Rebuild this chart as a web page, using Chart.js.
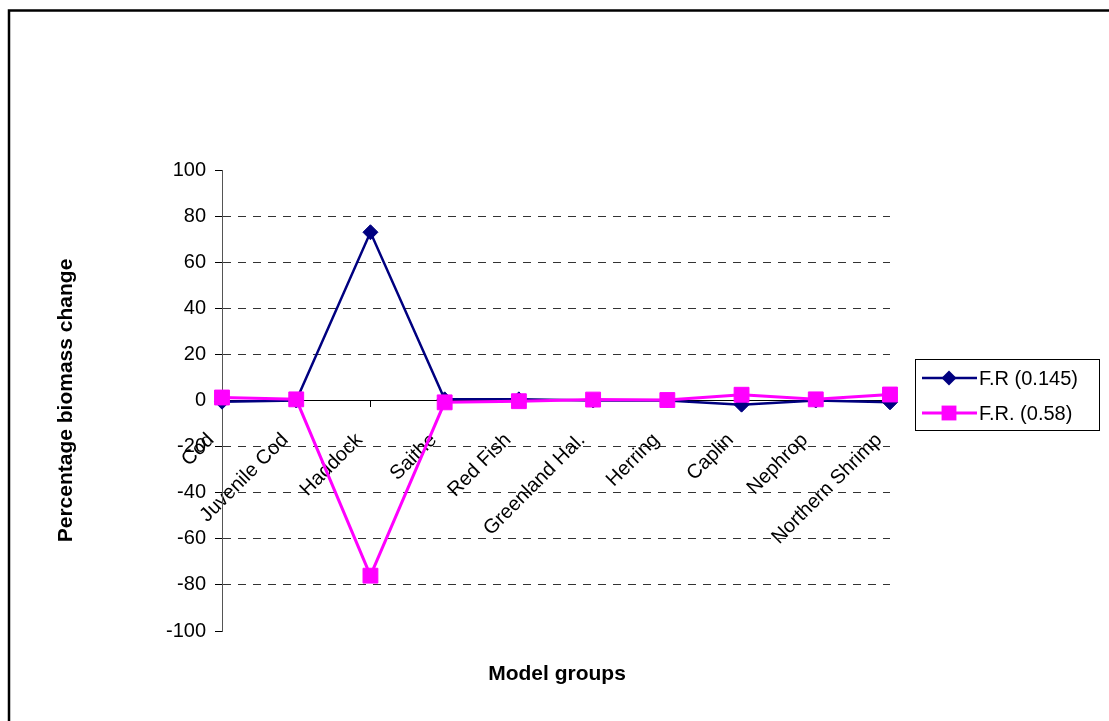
<!DOCTYPE html>
<html>
<head>
<meta charset="utf-8">
<title>Percentage biomass change by model group</title>
<script src="https://cdn.jsdelivr.net/npm/chart.js"></script>
<style>
  html, body { margin: 0; padding: 0; background: #fff; }
  #wrap { position: relative; width: 1109px; height: 721px; }
</style>
</head>
<body>
<div id="wrap"><canvas id="chart"></canvas></div>
<script>
// Model groups along the category axis
const categories = ['Cod', 'Juvenile Cod', 'Haddock', 'Saithe', 'Red Fish',
  'Greenland Hal.', 'Herring', 'Caplin', 'Nephrop', 'Northern Shrimp'];

// Percentage biomass change for each fishing-rate scenario
const seriesNames = ['F.R (0.145)', 'F.R. (0.58)'];
const fr0145 = [-0.5, 0, 73, 0.5, 0.5, 0, 0, -1.8, 0, -0.8];
const fr058 = [1.3, 0.5, -76, -0.8, -0.3, 0.4, 0.2, 2.5, 0.5, 2.6];

// Value axis ticks
const yMin = -100;
const yMax = 100;
const yStep = 20;

const FONT = "'Liberation Sans', Arial, sans-serif";
const NAVY = '#000080';
const MAGENTA = '#FF00FF';

// Frame, axis caption and boxed legend drawn on top of the chart
const decorations = {
  id: 'decorations',
  afterDraw(chart) {
    const ctx = chart.ctx;
    ctx.save();

    // outer frame (open at the right and bottom edges)
    ctx.strokeStyle = '#000';
    ctx.lineWidth = 2.5;
    ctx.beginPath();
    ctx.moveTo(9, 740);
    ctx.lineTo(9, 10.5);
    ctx.lineTo(1130, 10.5);
    ctx.stroke();

    // category axis caption
    ctx.fillStyle = '#000';
    ctx.font = 'bold 21px ' + FONT;
    ctx.textAlign = 'center';
    ctx.textBaseline = 'middle';
    const area = chart.chartArea;
    ctx.fillText('Model groups', (area.left + area.right) / 2 + 1, 674);

    // legend box
    const lx = 915.5, ly = 359.5, lw = 184, lh = 71;
    ctx.lineWidth = 1;
    ctx.strokeStyle = '#000';
    ctx.strokeRect(lx, ly, lw, lh);

    const rows = [378, 413];
    chart.data.datasets.forEach((ds, i) => {
      const y = rows[i];
      ctx.strokeStyle = ds.borderColor;
      ctx.lineWidth = ds.borderWidth;
      ctx.beginPath();
      ctx.moveTo(922, y);
      ctx.lineTo(977, y);
      ctx.stroke();
      ctx.fillStyle = ds.pointBackgroundColor;
      const cx = 949;
      if (ds.pointStyle === 'rectRot') {
        const r = ds.pointRadius;
        ctx.beginPath();
        ctx.moveTo(cx, y - r);
        ctx.lineTo(cx + r, y);
        ctx.lineTo(cx, y + r);
        ctx.lineTo(cx - r, y);
        ctx.closePath();
        ctx.fill();
      } else {
        const h = ds.pointRadius * Math.SQRT1_2;
        ctx.fillRect(cx - h, y - h, 2 * h, 2 * h);
      }
      ctx.fillStyle = '#000';
      ctx.font = '20px ' + FONT;
      ctx.textAlign = 'left';
      ctx.textBaseline = 'middle';
      ctx.fillText(ds.label, 979, y + 1);
    });
    ctx.restore();
  }
};

new Chart(document.getElementById('chart'), {
  type: 'line',
  data: {
    labels: categories,
    datasets: [
      {
        label: seriesNames[0],
        data: fr0145,
        borderColor: NAVY,
        backgroundColor: NAVY,
        pointBackgroundColor: NAVY,
        pointBorderColor: NAVY,
        borderWidth: 2.5,
        pointStyle: 'rectRot',
        pointRadius: 7.5,
        pointBorderWidth: 1,
        tension: 0,
        order: 1
      },
      {
        label: seriesNames[1],
        data: fr058,
        borderColor: MAGENTA,
        backgroundColor: MAGENTA,
        pointBackgroundColor: MAGENTA,
        pointBorderColor: MAGENTA,
        borderWidth: 3,
        pointStyle: 'rect',
        pointRadius: 10.5,
        pointBorderWidth: 1,
        tension: 0,
        order: 0
      }
    ]
  },
  options: {
    responsive: true,
    maintainAspectRatio: false,
    animation: false,
    layout: { padding: { top: 170, bottom: 90, left: 50, right: 219 } },
    plugins: {
      legend: { display: false },
      tooltip: { enabled: false },
      title: { display: false }
    },
    scales: {
      x: {
        type: 'category',
        position: { y: 0 },
        offset: false,
        grid: {
          drawOnChartArea: false,
          drawTicks: true,
          tickLength: 6,
          tickColor: '#000',
          tickWidth: 1
        },
        border: { display: true, color: '#000', width: 1 },
        ticks: {
          color: '#000',
          font: { family: FONT, size: 20 },
          minRotation: 45,
          maxRotation: 45,
          autoSkip: false,
          padding: 22,
          labelOffset: -11
        }
      },
      y: {
        min: yMin,
        max: yMax,
        afterFit(scale) { scale.width = 172; },
        grid: {
          drawOnChartArea: true,
          drawTicks: true,
          tickLength: 7,
          tickColor: '#000',
          tickWidth: 1,
          tickBorderDash: [],
          color: (c) => {
            const v = c.tick ? c.tick.value : null;
            return (v === yMin || v === yMax || v === 0) ? 'rgba(0,0,0,0)' : '#333';
          },
          lineWidth: 1
        },
        border: { display: true, color: '#555', width: 1, dash: [8, 7] },
        ticks: {
          stepSize: yStep,
          color: '#000',
          font: { family: FONT, size: 20 },
          padding: 9
        },
        title: {
          display: true,
          text: 'Percentage biomass change',
          color: '#000',
          font: { family: FONT, size: 21, weight: 'bold' }
        }
      }
    }
  },
  plugins: [decorations]
});
</script>
</body>
</html>
